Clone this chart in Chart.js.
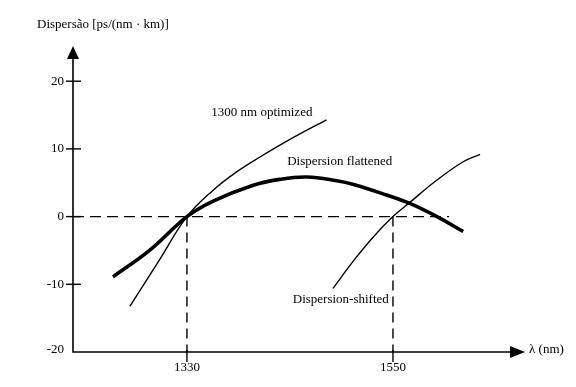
<!DOCTYPE html>
<html>
<head>
<meta charset="utf-8">
<script src="https://cdn.jsdelivr.net/npm/chart.js@4"></script>
<style>
  body { margin: 0; background: #fff; }
  canvas { display: block; }
</style>
</head>
<body>
<canvas id="chart" width="576" height="387"></canvas>
<script>
// values (wavelength nm, dispersion ps/(nm km))
const optimizedX = [1269, 1301, 1330, 1358, 1383, 1408, 1440, 1479];
const optimizedY = [-13.25, -6.3, 0, 3.9, 6.6, 8.8, 11.4, 14.3];

const flattenedX = [1251, 1290, 1330, 1358, 1400, 1429, 1458, 1490, 1508, 1543, 1568, 1597, 1625];
const flattenedY = [-8.9, -5.0, 0, 2.3, 4.6, 5.5, 5.85, 5.3, 4.75, 3.2, 1.95, 0, -2.2];

const shiftedX = [1486, 1508, 1529, 1550, 1568, 1597, 1625, 1643];
const shiftedY = [-10.6, -6.5, -3.0, 0, 2.1, 5.4, 8.1, 9.2];

const yTicks = [-20, -10, 0, 10, 20];
const xTicks = [1330, 1550];
const zeroLineEnd = 1610;

const curveLabels = ["1300 nm optimized", "Dispersion flattened", "Dispersion-shifted"];
const labelX = [1356, 1437, 1443];
const labelY = [15.3, 8.2, -12.2];

const FONT = '13px "Liberation Serif", "Times New Roman", serif';

function toPoints(xs, ys) {
    return xs.map((x, i) => ({ x: x, y: ys[i] }));
}

// axes, arrows, ticks, dashed guides and text
const decorations = {
    id: "decorations",
    beforeDatasetsDraw(chart) {
        const ctx = chart.ctx;
        const xs = chart.scales.x;
        const ys = chart.scales.y;
        const left = chart.chartArea.left;
        const right = chart.chartArea.right;
        const top = chart.chartArea.top;
        const bottom = ys.getPixelForValue(-20);
        const zeroY = ys.getPixelForValue(0);

        ctx.save();
        ctx.strokeStyle = "#000";
        ctx.lineWidth = 1.4;

        // dashed guides
        ctx.setLineDash([11, 6]);
        ctx.beginPath();
        ctx.moveTo(left, zeroY);
        ctx.lineTo(xs.getPixelForValue(zeroLineEnd), zeroY);
        ctx.stroke();
        ctx.setLineDash([10, 6]);
        xTicks.forEach(t => {
            const px = xs.getPixelForValue(t);
            ctx.beginPath();
            ctx.moveTo(px, zeroY);
            ctx.lineTo(px, bottom);
            ctx.stroke();
        });
        ctx.setLineDash([]);

        // axis lines
        ctx.lineWidth = 1.6;
        ctx.beginPath();
        ctx.moveTo(left, top + 12);
        ctx.lineTo(left, bottom);
        ctx.lineTo(right - 14, bottom);
        ctx.stroke();

        // arrow heads
        ctx.fillStyle = "#000";
        ctx.beginPath();
        ctx.moveTo(left, top);
        ctx.lineTo(left - 6, top + 13);
        ctx.lineTo(left + 6, top + 13);
        ctx.closePath();
        ctx.fill();
        ctx.beginPath();
        ctx.moveTo(right, bottom);
        ctx.lineTo(right - 15, bottom - 6);
        ctx.lineTo(right - 15, bottom + 6);
        ctx.closePath();
        ctx.fill();

        // tick marks
        ctx.lineWidth = 1.4;
        yTicks.forEach(t => {
            if (t === -20) return;
            const py = ys.getPixelForValue(t);
            ctx.beginPath();
            ctx.moveTo(left - 7, py);
            ctx.lineTo(left + 8, py);
            ctx.stroke();
        });
        xTicks.forEach(t => {
            const px = xs.getPixelForValue(t);
            ctx.beginPath();
            ctx.moveTo(px, bottom - 2);
            ctx.lineTo(px, bottom + 10);
            ctx.stroke();
        });

        // text
        ctx.font = FONT;
        ctx.textBaseline = "middle";
        ctx.textAlign = "right";
        yTicks.forEach(t => {
            const py = ys.getPixelForValue(t);
            ctx.fillText(String(t), left - 9, t === -20 ? py - 2 : py);
        });
        ctx.textAlign = "center";
        xTicks.forEach(t => {
            ctx.fillText(String(t), xs.getPixelForValue(t), bottom + 16);
        });
        ctx.textAlign = "left";
        ctx.fillText("Dispersão [ps/(nm · km)]", 37, 25);
        ctx.fillText("λ (nm)", right + 4, bottom - 2);
        curveLabels.forEach((txt, i) => {
            ctx.fillText(txt, xs.getPixelForValue(labelX[i]), ys.getPixelForValue(labelY[i]));
        });
        ctx.restore();
    }
};

new Chart(document.getElementById("chart"), {
    type: "line",
    data: {
        datasets: [
            {
                label: curveLabels[0],
                data: toPoints(optimizedX, optimizedY),
                borderColor: "#000",
                borderWidth: 1.4,
                tension: 0.4,
                pointRadius: 0,
                fill: false
            },
            {
                label: curveLabels[1],
                data: toPoints(flattenedX, flattenedY),
                borderColor: "#000",
                borderWidth: 3.6,
                tension: 0.4,
                pointRadius: 0,
                fill: false
            },
            {
                label: curveLabels[2],
                data: toPoints(shiftedX, shiftedY),
                borderColor: "#000",
                borderWidth: 1.4,
                tension: 0.4,
                pointRadius: 0,
                fill: false
            }
        ]
    },
    options: {
        responsive: false,
        animation: false,
        layout: { padding: { left: 73, right: 51, top: 46, bottom: 35 } },
        plugins: {
            legend: { display: false },
            tooltip: { enabled: false }
        },
        scales: {
            x: { type: "linear", min: 1208.3, max: 1691, display: false },
            y: { type: "linear", min: -20, max: 25.2, display: false }
        }
    },
    plugins: [decorations]
});
</script>
</body>
</html>
